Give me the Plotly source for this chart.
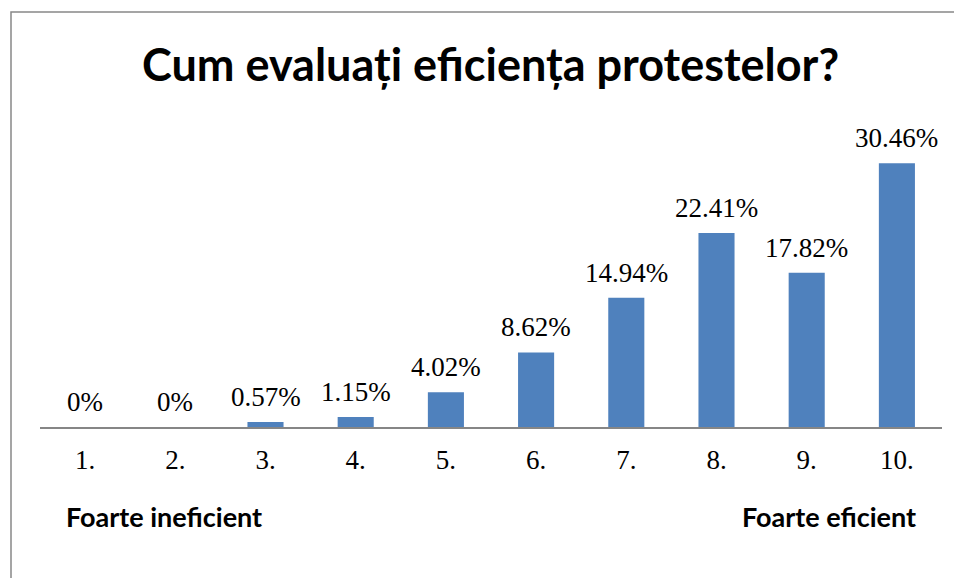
import plotly.graph_objects as go

# Data
categories = ["1.", "2.", "3.", "4.", "5.", "6.", "7.", "8.", "9.", "10."]
percentages = [0, 0, 0.57, 1.15, 4.02, 8.62, 14.94, 22.41, 17.82, 30.46]
value_labels = ["0%", "0%", "0.57%", "1.15%", "4.02%", "8.62%", "14.94%", "22.41%", "17.82%", "30.46%"]
title_text = "Cum evaluați eficiența protestelor?"
left_note = "Foarte ineficient"
right_note = "Foarte eficient"

# page has an 8px body margin, so the figure starts at (8, 8)
OFF = 8
W, H = 962, 578
ML, MR, MT, MB = 40 - OFF, 28, 124 - OFF, 159
PW, PH = W - ML - MR, H - MT - MB


def px_x(p):
    return (p - OFF - ML) / PW


def px_y(p):
    return (H - MB - (p - OFF)) / PH


fig = go.Figure()

fig.add_trace(
    go.Bar(
        x=categories,
        y=percentages,
        marker=dict(color="#4F81BD", line=dict(width=0)),
        width=0.4,
        hoverinfo="skip",
    )
)

# Value labels above each bar (category axis: x given as category index)
for i, (val, lab) in enumerate(zip(percentages, value_labels)):
    fig.add_annotation(
        x=i, y=val, text=lab, showarrow=False,
        xanchor="center", yanchor="bottom", yshift=8,
        font=dict(family="Liberation Serif", size=27, color="#000000"),
    )

# Outer frame of the chart area
fig.add_shape(
    type="rect", xref="paper", yref="paper",
    x0=px_x(11), x1=px_x(959), y0=px_y(12), y1=px_y(600),
    line=dict(color="#888888", width=1.5), fillcolor="rgba(0,0,0,0)", layer="below",
)

# Title
fig.add_annotation(
    text="<b>" + title_text + "</b>", xref="paper", yref="paper",
    x=px_x(490), y=px_y(64), xanchor="center", yanchor="middle", showarrow=False,
    font=dict(family="Lato", size=45, color="#000000"),
)

# Scale end notes
fig.add_annotation(
    text="<b>" + left_note + "</b>", xref="paper", yref="paper",
    x=px_x(64), y=px_y(516), xanchor="left", yanchor="middle", showarrow=False,
    font=dict(family="Lato", size=27, color="#000000"),
)
fig.add_annotation(
    text="<b>" + right_note + "</b>", xref="paper", yref="paper",
    x=px_x(918), y=px_y(516), xanchor="right", yanchor="middle", showarrow=False,
    font=dict(family="Lato", size=27, color="#000000"),
)

fig.update_layout(
    width=W, height=H,
    margin=dict(l=ML, r=MR, t=MT, b=MB),
    paper_bgcolor="white", plot_bgcolor="white",
    showlegend=False,
    xaxis=dict(
        type="category",
        range=[-0.5, len(categories) - 0.5],
        showline=True, linecolor="#868686", linewidth=2,
        ticks="outside", ticklen=8, tickcolor="rgba(0,0,0,0)",
        tickfont=dict(family="Liberation Serif", size=27, color="#000000"),
        showgrid=False, zeroline=False,
    ),
    yaxis=dict(
        range=[0, 35], visible=False, showgrid=False, zeroline=False,
    ),
)

fig.write_html("out.html")
